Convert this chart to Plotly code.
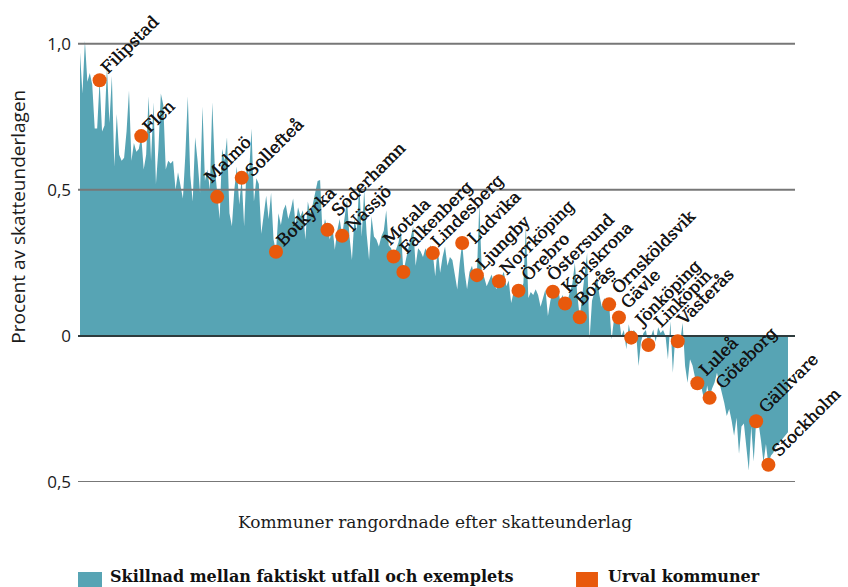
import plotly.graph_objects as go

# Municipalities ranked by tax base (1 = highest difference)
values = [
    0.97, 0.83, 1.01, 0.87, 0.90, 0.86, 0.71, 0.71, 0.875, 0.70,
    0.72, 0.92, 0.73, 0.89, 0.58, 0.76, 0.62, 0.60, 0.61, 0.70,
    0.84, 0.60, 0.66, 0.63, 0.64, 0.684, 0.57, 0.62, 0.82, 0.60,
    0.80, 0.52, 0.64, 0.83, 0.79, 0.57, 0.60, 0.59, 0.60, 0.50,
    0.56, 0.52, 0.47, 0.62, 0.82, 0.55, 0.46, 0.68, 0.60, 0.49,
    0.785, 0.53, 0.57, 0.50, 0.80, 0.58, 0.476, 0.40, 0.64, 0.60,
    0.68, 0.42, 0.375, 0.50, 0.58, 0.45, 0.541, 0.375, 0.58, 0.55,
    0.71, 0.46, 0.54, 0.52, 0.35, 0.42, 0.48, 0.40, 0.49, 0.33,
    0.289, 0.42, 0.38, 0.43, 0.45, 0.40, 0.43, 0.47, 0.38, 0.44,
    0.41, 0.43, 0.33, 0.46, 0.42, 0.45, 0.49, 0.53, 0.534, 0.35,
    0.40, 0.363, 0.33, 0.38, 0.295, 0.36, 0.40, 0.343, 0.40, 0.466,
    0.34, 0.26, 0.40, 0.36, 0.523, 0.34, 0.50, 0.35, 0.26, 0.41,
    0.34, 0.33, 0.306, 0.34, 0.36, 0.43, 0.31, 0.30, 0.272, 0.30,
    0.32, 0.363, 0.219, 0.26, 0.30, 0.33, 0.375, 0.24, 0.30, 0.29,
    0.27, 0.30, 0.28, 0.31, 0.284, 0.204, 0.30, 0.216, 0.27, 0.306,
    0.24, 0.27, 0.26, 0.21, 0.159, 0.25, 0.318, 0.22, 0.16, 0.22,
    0.24, 0.20, 0.208, 0.455, 0.22, 0.20, 0.17, 0.19, 0.21, 0.18,
    0.16, 0.187, 0.20, 0.22, 0.17, 0.19, 0.113, 0.15, 0.17, 0.155,
    0.16, 0.18, 0.376, 0.13, 0.15, 0.14, 0.16, 0.14, 0.10, 0.13,
    0.16, 0.068, 0.12, 0.151, 0.14, 0.17, 0.12, 0.14, 0.111, 0.12,
    0.15, 0.18, 0.25, 0.14, 0.064, 0.14, 0.20, 0.284, -0.012, 0.12,
    0.15, 0.204, 0.14, 0.10, 0.13, 0.11, 0.108, -0.012, 0.06, 0.07,
    0.063, 0.0, 0.02, -0.046, 0.04, -0.006, 0.02, 0.01, -0.103, -0.02,
    0.01, 0.02, -0.031, 0.0, 0.022, -0.02, 0.03, 0.01, 0.02, 0.0,
    -0.08, 0.05, -0.126, 0.0, -0.018, -0.02, 0.045, -0.103, -0.16, -0.08,
    -0.10, -0.14, -0.162, -0.15, -0.19, -0.228, -0.17, -0.212, -0.18, -0.16,
    -0.126, -0.16, -0.19, -0.23, -0.274, -0.25, -0.29, -0.342, -0.28, -0.404,
    -0.31, -0.30, -0.38, -0.461, -0.31, -0.43, -0.292, -0.30, -0.36, -0.433,
    -0.37, -0.441, -0.41, -0.40, -0.38, -0.37, -0.36, -0.35, -0.34, -0.33,
]
ranks = list(range(1, len(values) + 1))

sel_names = ["Filipstad", "Flen", "Malmö", "Sollefteå", "Botkyrka", "Söderhamn",
             "Nässjö", "Motala", "Falkenberg", "Lindesberg", "Ludvika", "Ljungby",
             "Norrköping", "Örebro", "Östersund", "Karlskrona", "Borås",
             "Örnsköldsvik", "Gävle", "Jönköping", "Linköpin", "Västerås",
             "Luleå", "Göteborg", "Gällivare", "Stockholm"]
sel_ranks = [9, 26, 57, 67, 81, 102, 108, 129, 133, 145, 157, 163, 172, 180, 194,
             199, 205, 217, 221, 226, 233, 245, 253, 258, 277, 282]
sel_values = [0.875, 0.684, 0.476, 0.541, 0.288, 0.363, 0.343, 0.272, 0.219, 0.284,
              0.318, 0.208, 0.187, 0.155, 0.151, 0.111, 0.064, 0.108, 0.063, -0.006,
              -0.031, -0.018, -0.162, -0.212, -0.292, -0.441]

# label pixel shifts (style only)
label_xshift = [-3, -3, -17, -1, -4, -1, -1, -15, -8, -6, 1, -5, -4, -3, -11, -8, -9,
                -3, -3, -2, 1, -6, -3, 1, -2, -1]
label_yshift = [0, -3, 7, -5, -1, 7, -2, 5, 11, -1, -8, -1, 0, 3, 4, 4, 5,
                4, 2, 4, 11, 9, 1, 2, 1, 1]

tick_vals = [-0.5, 0, 0.5, 1.0]
tick_text = ["0,5", "0", "0,5", "1,0"]

TEAL = "#57a4b4"
ORANGE = "#e8590c"
SERIF = "DejaVu Serif"

x_range = [0.18, 292.86]
y_range = [-0.5, 1.03]

fig = go.Figure()
fig.add_trace(go.Scatter(
    x=ranks, y=values, mode="lines", fill="tozeroy",
    line=dict(width=0, color=TEAL), fillcolor=TEAL, hoverinfo="skip",
    showlegend=False))

# grid lines drawn above the area but below the dots
for v in tick_vals:
    fig.add_trace(go.Scatter(
        x=x_range, y=[v, v], mode="lines",
        line=dict(color="#2e3b3d" if v == 0 else "#777777", width=2),
        hoverinfo="skip", showlegend=False, cliponaxis=False))

fig.add_trace(go.Scatter(
    x=sel_ranks, y=sel_values, mode="markers", hoverinfo="skip",
    marker=dict(size=14, color=ORANGE), showlegend=False, cliponaxis=False))

for n, r, v, xs, ys in zip(sel_names, sel_ranks, sel_values, label_xshift, label_yshift):
    fig.add_annotation(x=r, y=v, text=n, textangle=-45, showarrow=False,
                       xanchor="left", yanchor="bottom", xshift=xs - 2, yshift=ys,
                       font=dict(family=SERIF, size=16.5, color="#141414",
                                 shadow="0.5px 0px 0px #141414"))

# axis titles
fig.add_annotation(xref="paper", yref="paper", x=-0.084, y=0.593, xanchor="center",
                   yanchor="middle", text="Procent av skatteunderlagen", textangle=-90,
                   showarrow=False, font=dict(family="Open Sans", size=19, color="#1b1b1b"))
fig.add_annotation(xref="paper", yref="paper", x=0.498, y=-0.0895, xanchor="center",
                   yanchor="middle", text="Kommuner rangordnade efter skatteunderlag",
                   showarrow=False, font=dict(family=SERIF, size=17, color="#1b1b1b"))

# legend
fig.add_shape(type="rect", xref="paper", yref="paper", x0=0.0, x1=0.0335,
              y0=-0.2415, y1=-0.2013, fillcolor=TEAL, line=dict(width=0))
fig.add_annotation(xref="paper", yref="paper", x=0.0418, y=-0.186, yanchor="top",
                   xanchor="left", text="<b>Skillnad mellan faktiskt utfall och exemplets</b>",
                   showarrow=False, font=dict(family=SERIF, size=16, color="#111111"))
fig.add_shape(type="rect", xref="paper", yref="paper", x0=0.6946, x1=0.7252,
              y0=-0.2415, y1=-0.2013, fillcolor=ORANGE, line=dict(width=0))
fig.add_annotation(xref="paper", yref="paper", x=0.7364, y=-0.186, yanchor="top",
                   xanchor="left", text="<b>Urval kommuner</b>",
                   showarrow=False, font=dict(family=SERIF, size=16, color="#111111"))

fig.update_layout(
    width=848, height=587,
    margin=dict(l=78, r=53, t=35, b=105),
    paper_bgcolor="white", plot_bgcolor="white",
    hovermode=False,
    xaxis=dict(range=x_range, showgrid=False, zeroline=False, showticklabels=False,
               showline=False, ticks="", automargin=False),
    yaxis=dict(range=y_range, showgrid=False, zeroline=False, tickvals=tick_vals,
               ticktext=tick_text, ticks="", ticklabelstandoff=6, automargin=False,
               tickfont=dict(family="Open Sans", size=17, color="#1b1b1b")),
)

fig.write_html("out.html", config={"displayModeBar": False},
               post_script="document.body.style.margin='0';document.body.style.overflow='hidden';")
